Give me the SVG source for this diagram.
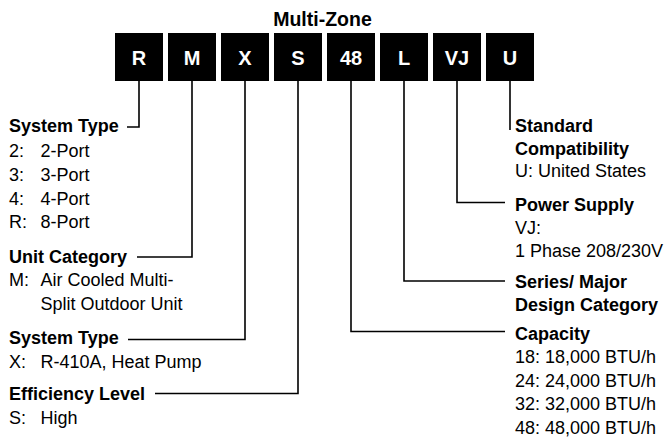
<svg xmlns="http://www.w3.org/2000/svg" width="667" height="438" viewBox="0 0 667 438">
<style>
.box{fill:#000}
.bl{font-family:"Liberation Sans",Arial,sans-serif;font-weight:bold;font-size:20px;fill:#fff;text-anchor:middle}
.h{font-family:"Liberation Sans",Arial,sans-serif;font-weight:bold;font-size:18px;fill:#000}
.t{font-family:"Liberation Sans",Arial,sans-serif;font-size:18px;fill:#000}
.c{fill:none;stroke:#000;stroke-width:1.6}
</style>
<rect width="667" height="438" fill="#fff"/>
<text x="322.5" y="26" class="h" style="font-size:19.5px" text-anchor="middle">Multi-Zone</text>
<g id="box-R"><rect class="box" x="115" y="33" width="48" height="48"/><text class="bl" x="139" y="65">R</text></g>
<g id="box-M"><rect class="box" x="168" y="33" width="48" height="48"/><text class="bl" x="192" y="65">M</text></g>
<g id="box-X"><rect class="box" x="221" y="33" width="48" height="48"/><text class="bl" x="245" y="65">X</text></g>
<g id="box-S"><rect class="box" x="274" y="33" width="48" height="48"/><text class="bl" x="298" y="65">S</text></g>
<g id="box-48"><rect class="box" x="327" y="33" width="48" height="48"/><text class="bl" x="351" y="65">48</text></g>
<g id="box-L"><rect class="box" x="380" y="33" width="48" height="48"/><text class="bl" x="404" y="65">L</text></g>
<g id="box-VJ"><rect class="box" x="433" y="33" width="48" height="48"/><text class="bl" x="457" y="65">VJ</text></g>
<g id="box-U"><rect class="box" x="486" y="33" width="48" height="48"/><text class="bl" x="510" y="65">U</text></g>
<g id="connectors">
<polyline class="c" points="139,81 139,127 127,127"/>
<polyline class="c" points="192,81 192,257 137,257"/>
<polyline class="c" points="245,81 245,339.5 128,339.5"/>
<polyline class="c" points="298,81 298,393.5 155,393.5"/>
<polyline class="c" points="351,81 351,331.5 505,331.5"/>
<polyline class="c" points="404,81 404,281 505,281"/>
<polyline class="c" points="457,81 457,202.5 505,202.5"/>
<polyline class="c" points="510,81 510,130"/>
</g>
<g id="system-type">
<text class="h" x="9" y="132">System Type</text>
<text class="t" x="9" y="156.5">2:</text><text class="t" x="40.5" y="156.5">2-Port</text>
<text class="t" x="9" y="180.5">3:</text><text class="t" x="40.5" y="180.5">3-Port</text>
<text class="t" x="9" y="204.5">4:</text><text class="t" x="40.5" y="204.5">4-Port</text>
<text class="t" x="9" y="228">R:</text><text class="t" x="40.5" y="228">8-Port</text>
</g>
<g id="unit-category">
<text class="h" x="9" y="262.5">Unit Category</text>
<text class="t" x="9" y="286">M:</text><text class="t" x="40.5" y="286">Air Cooled Multi-</text>
<text class="t" x="40.5" y="310">Split Outdoor Unit</text>
</g>
<g id="system-type-2">
<text class="h" x="9" y="343.5">System Type</text>
<text class="t" x="9" y="367.5">X:</text><text class="t" x="40.5" y="367.5">R-410A, Heat Pump</text>
</g>
<g id="efficiency">
<text class="h" x="9" y="400">Efficiency Level</text>
<text class="t" x="9" y="424">S:</text><text class="t" x="40.5" y="424">High</text>
</g>
<g id="standard">
<text class="h" x="515" y="131.5">Standard</text>
<text class="h" x="515" y="155">Compatibility</text>
<text class="t" x="515" y="177">U: United States</text>
</g>
<g id="power">
<text class="h" x="515" y="211">Power Supply</text>
<text class="t" x="515" y="233.5">VJ:</text>
<text class="t" x="515" y="256.5">1 Phase 208/230V</text>
</g>
<g id="series">
<text class="h" x="515" y="288">Series/ Major</text>
<text class="h" x="515" y="311">Design Category</text>
</g>
<g id="capacity">
<text class="h" x="515" y="340">Capacity</text>
<text class="t" x="515" y="362.5">18: 18,000 BTU/h</text>
<text class="t" x="515" y="386.5">24: 24,000 BTU/h</text>
<text class="t" x="515" y="410">32: 32,000 BTU/h</text>
<text class="t" x="515" y="433.5">48: 48,000 BTU/h</text>
</g>
</svg>
